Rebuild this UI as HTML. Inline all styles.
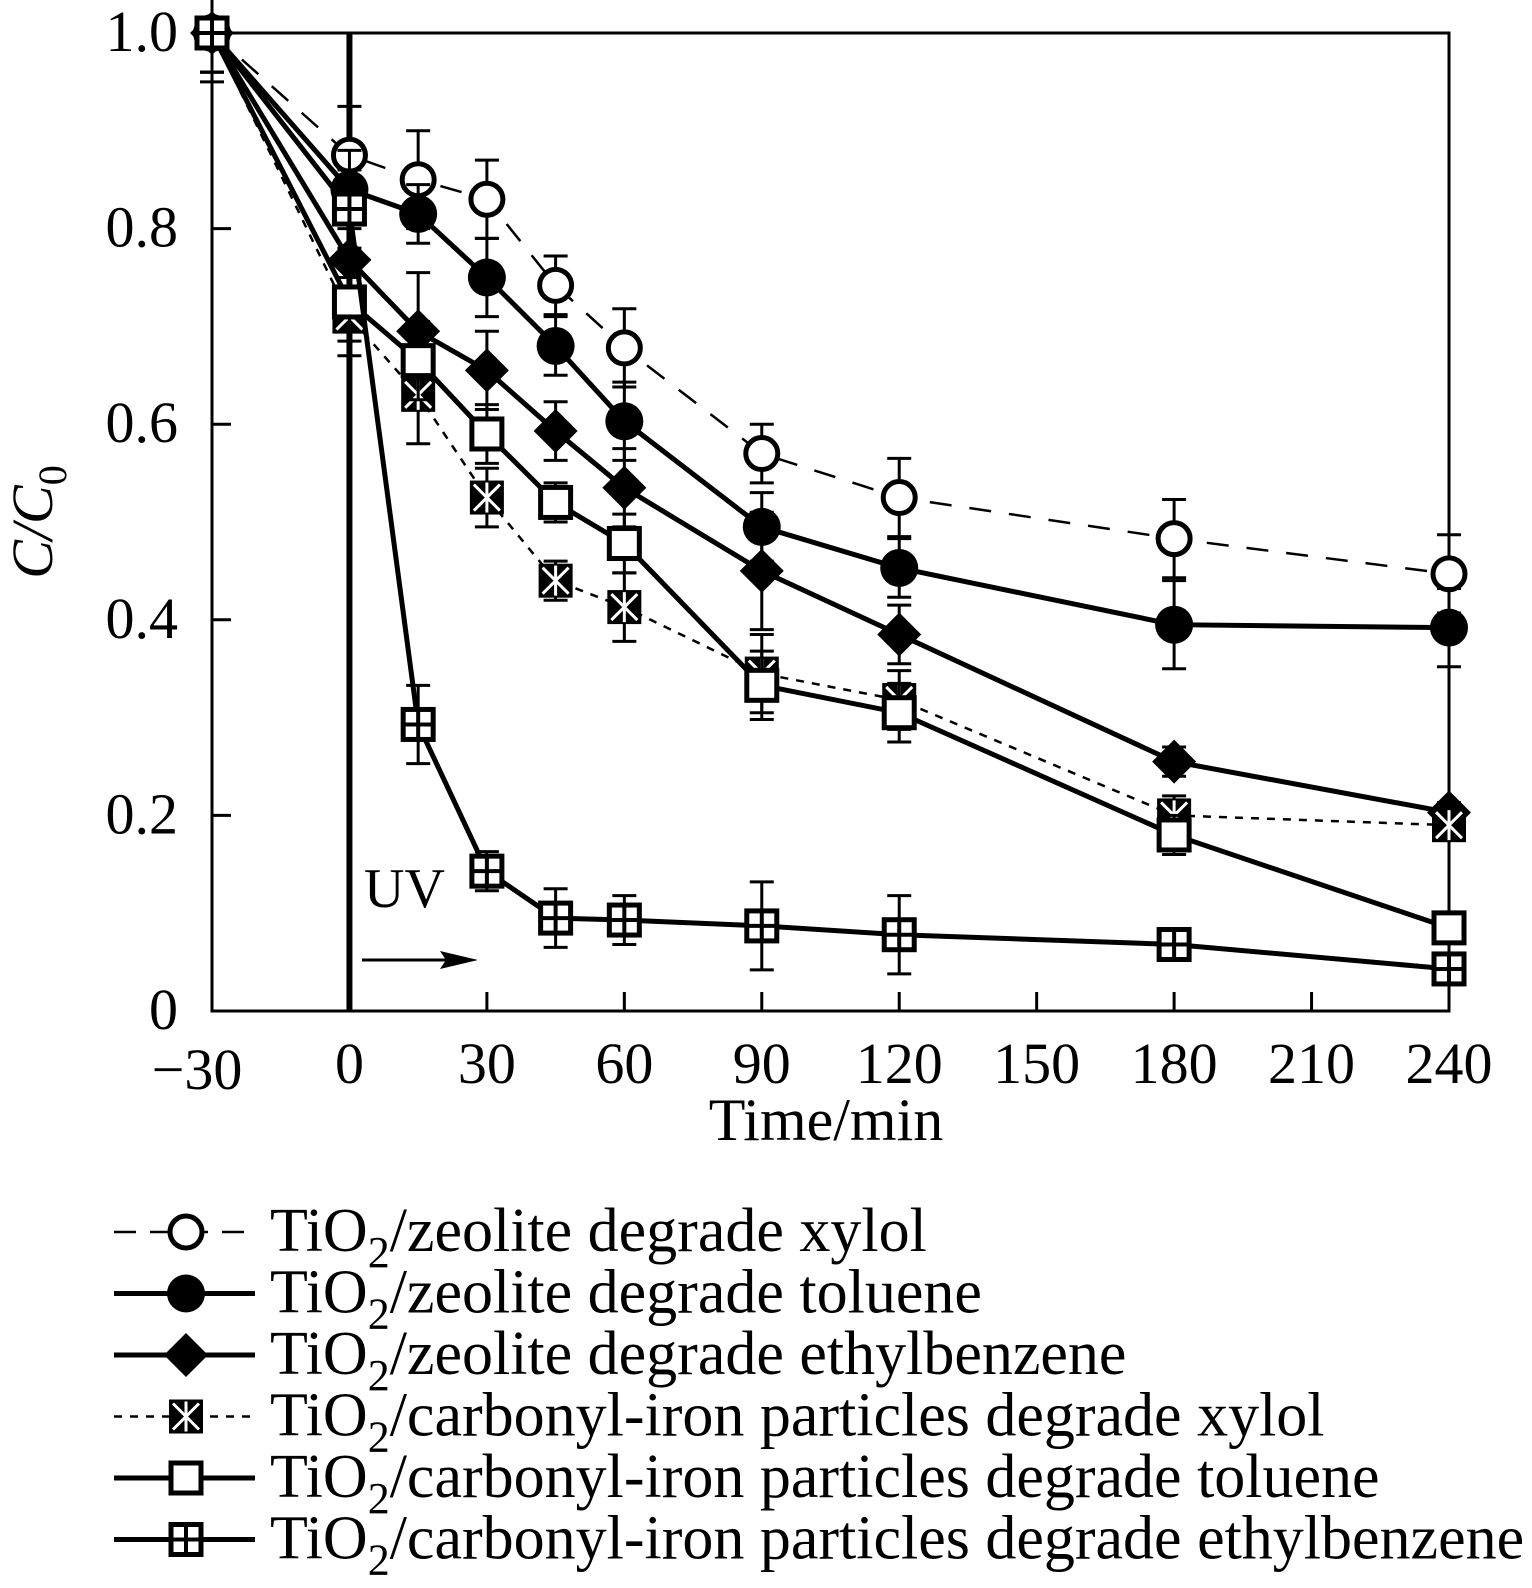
<!DOCTYPE html>
<html><head><meta charset="utf-8"><style>
html,body{margin:0;padding:0;background:#fff;}
svg{display:block;font-family:"Liberation Serif",serif;}
</style></head><body>
<svg id="chart" width="1532" height="1588" viewBox="0 0 1532 1588">
<g id="plot"></g>
<g id="legend"></g>
</svg>
<script>
const times = [-30, 0, 15, 30, 45, 60, 90, 120, 180, 240];
const xTicks = [-30, 0, 30, 60, 90, 120, 150, 180, 210, 240];
const yTicks = [0, 0.2, 0.4, 0.6, 0.8, 1.0];
const yTickLabels = ["0", "0.2", "0.4", "0.6", "0.8", "1.0"];
const xylolZeolite = [1.0, 0.875, 0.85, 0.83, 0.742, 0.678, 0.57, 0.525, 0.483, 0.447];
const xylolZeoliteErr = [0.05, 0.05, 0.05, 0.04, 0.03, 0.04, 0.03, 0.04, 0.04, 0.04];
const tolueneZeolite = [1.0, 0.84, 0.815, 0.75, 0.68, 0.603, 0.495, 0.453, 0.395, 0.392];
const tolueneZeoliteErr = [0.04, 0.04, 0.03, 0.04, 0.03, 0.04, 0.035, 0.03, 0.045, 0.04];
const ethylZeolite = [1.0, 0.768, 0.695, 0.655, 0.593, 0.535, 0.45, 0.385, 0.255, 0.203];
const ethylZeoliteErr = [0.04, 0.04, 0.06, 0.04, 0.03, 0.04, 0.06, 0.03, 0.015, 0.01];
const xylolIron = [1.0, 0.71, 0.63, 0.525, 0.44, 0.413, 0.345, 0.318, 0.2, 0.19];
const xylolIronErr = [0.04, 0.04, 0.05, 0.03, 0.02, 0.035, 0.04, 0.03, 0.02, 0.01];
const tolueneIron = [1.0, 0.725, 0.665, 0.59, 0.52, 0.478, 0.333, 0.305, 0.18, 0.085];
const tolueneIronErr = [0.04, 0.04, 0.04, 0.03, 0.02, 0.03, 0.035, 0.03, 0.02, 0.01];
const ethylIron = [1.0, 0.82, 0.293, 0.143, 0.095, 0.093, 0.087, 0.078, 0.068, 0.043];
const ethylIronErr = [0.04, 0.04, 0.04, 0.02, 0.03, 0.025, 0.045, 0.04, 0.01, 0.01];
const legendLabels = ["zeolite degrade xylol","zeolite degrade toluene","zeolite degrade ethylbenzene","carbonyl-iron particles degrade xylol","carbonyl-iron particles degrade toluene","carbonyl-iron particles degrade ethylbenzene"];

const NS="http://www.w3.org/2000/svg";
const L=212,R=1449,T=33,B=1011;
const xs=v=>L+(v+30)/270*(R-L);
const ys=v=>B-v*(B-T);
function mk(tag,attrs,parent){const e=document.createElementNS(NS,tag);for(const k in attrs)e.setAttribute(k,attrs[k]);parent.appendChild(e);return e;}
const plot=document.getElementById('plot');
const legend=document.getElementById('legend');

let ax=mk('rect',{x:L,y:T,width:R-L,height:B-T,fill:'none',stroke:'#000','stroke-width':3},plot);


xTicks.forEach((t,i)=>{
  let tk=mk('line',{x1:xs(t),x2:xs(t),y1:B,y2:B-19,stroke:'#000','stroke-width':3},plot);
  
  
  let lb=mk('text',{x:xs(t)+(t===-30?-15:0),y:B+(t===-30?78:72),'font-size':58,'text-anchor':'middle'},plot);
  lb.textContent=t<0?'\u2212'+Math.abs(t):String(t);
  
  
});
yTicks.forEach((t,i)=>{
  let tk=mk('line',{x1:L,x2:L+19,y1:ys(t),y2:ys(t),stroke:'#000','stroke-width':3},plot);
  
  
  let lb=mk('text',{x:178,y:ys(t)+18,'font-size':58,'text-anchor':'end'},plot);
  lb.textContent=yTickLabels[i];
  
  
});
let xt=mk('text',{x:826,y:1140,'font-size':60,'text-anchor':'middle'},plot);
xt.textContent='Time/min';


let yt=mk('text',{x:0,y:0,'font-size':58,'text-anchor':'middle','font-style':'italic',transform:'translate(52,522) rotate(-90)'},plot);
yt.innerHTML='C/C<tspan font-style="normal" font-size="40" dy="14">0</tspan>';


let uv=mk('line',{x1:xs(0),x2:xs(0),y1:T,y2:B,stroke:'#000','stroke-width':6},plot);


let uvt=mk('text',{x:364,y:907,'font-size':56},plot);
uvt.textContent='UV';


let arr=mk('g',{},plot);


mk('line',{x1:362,x2:462,y1:960,y2:960,stroke:'#000','stroke-width':3},arr);
mk('path',{d:'M478 960 L440 951 L446 960 L440 969 Z',fill:'#000'},arr);

function marker(type,x,y,parent){
  const g=mk('g',{},parent);
  if(type==='ocircle')mk('circle',{cx:x,cy:y,r:16,fill:'#fff',stroke:'#000','stroke-width':5},g);
  else if(type==='fcircle')mk('circle',{cx:x,cy:y,r:19,fill:'#000'},g);
  else if(type==='diamond')mk('path',{d:`M${x} ${y-22}L${x+22} ${y}L${x} ${y+22}L${x-22} ${y}Z`,fill:'#000'},g);
  else if(type==='xsquare'){mk('rect',{x:x-17,y:y-17,width:34,height:34,fill:'#000'},g);
    mk('path',{d:`M${x-13} ${y-13}L${x+13} ${y+13}M${x+13} ${y-13}L${x-13} ${y+13}M${x} ${y-15}L${x} ${y+15}`,stroke:'#fff','stroke-width':3},g);}
  else if(type==='osquare')mk('rect',{x:x-15,y:y-15,width:30,height:30,fill:'#fff',stroke:'#000','stroke-width':5},g);
  else if(type==='psquare'){mk('rect',{x:x-15,y:y-15,width:30,height:30,fill:'#fff',stroke:'#000','stroke-width':5},g);
    mk('path',{d:`M${x} ${y-15}L${x} ${y+15}M${x-15} ${y}L${x+15} ${y}`,stroke:'#000','stroke-width':4},g);}
  return g;
}
const series=[
 {name:'xylol-zeolite',vals:xylolZeolite,err:xylolZeoliteErr,m:'ocircle',dash:'22 18',w:2.5},
 {name:'toluene-zeolite',vals:tolueneZeolite,err:tolueneZeoliteErr,m:'fcircle',dash:'',w:5},
 {name:'ethylbenzene-zeolite',vals:ethylZeolite,err:ethylZeoliteErr,m:'diamond',dash:'',w:5},
 {name:'xylol-carbonyl-iron',vals:xylolIron,err:xylolIronErr,m:'xsquare',dash:'8 8',w:2.5},
 {name:'toluene-carbonyl-iron',vals:tolueneIron,err:tolueneIronErr,m:'osquare',dash:'',w:5},
 {name:'ethylbenzene-carbonyl-iron',vals:ethylIron,err:ethylIronErr,m:'psquare',dash:'',w:5}
];
series.forEach(s=>{
  const g=mk('g',{},plot);
  
  
  s.vals.forEach((v,i)=>{
    const x=xs(times[i]),e=s.err[i];
    const eb=mk('path',{d:`M${x} ${ys(v+e)}L${x} ${ys(v-e)}M${x-12} ${ys(v+e)}L${x+12} ${ys(v+e)}M${x-12} ${ys(v-e)}L${x+12} ${ys(v-e)}`,stroke:'#000','stroke-width':3,fill:'none'},g);
    
    
  });
  const pts=s.vals.map((v,i)=>xs(times[i])+','+ys(v)).join(' ');
  const pl=mk('polyline',{points:pts,fill:'none',stroke:'#000','stroke-width':s.w,'stroke-dasharray':s.dash||'none'},g);
  
  
  s.vals.forEach((v,i)=>{
    const m=marker(s.m,xs(times[i]),ys(v),g);
    
    
  });
});
series.forEach((s,i)=>{
  const y=1232+i*61.5;
  const g=mk('g',{},legend);
  
  
  mk('line',{x1:114,x2:255,y1:y,y2:y,stroke:'#000','stroke-width':s.w,'stroke-dasharray':s.m==='ocircle'?'22 14':(s.dash||'none')},g);
  marker(s.m,186,y,g);
  const t=mk('text',{x:270,y:y+19,'font-size':62},g);
  t.innerHTML='TiO<tspan font-size="44" dy="16">2</tspan><tspan dy="-16">/'+legendLabels[i]+'</tspan>';
});
</script>
</body></html>
